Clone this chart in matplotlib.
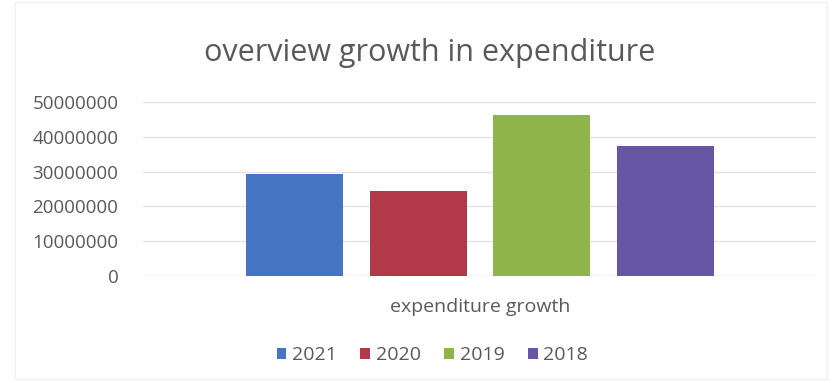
import matplotlib
matplotlib.use("Agg")
import matplotlib.pyplot as plt
from matplotlib.patches import Rectangle

categories = ["expenditure growth"]
years = ["2021", "2020", "2019", "2018"]
values = [29200000, 24400000, 46300000, 37400000]
colors = ["#4673c4", "#b23a48", "#8fb44a", "#6656a3"]
yticks = [0, 10000000, 20000000, 30000000, 40000000, 50000000]

TEXT = "#595959"
GRID = "#e3e3e3"

plt.rcParams["font.family"] = ["Open Sans", "DejaVu Sans"]

fig = plt.figure(figsize=(8.33, 3.83), dpi=100)
ax = fig.add_axes([0.172, 0.279, 0.808, 0.455])

width = 0.144
step = 0.1835
n = len(years)
for i, (label, v, c) in enumerate(zip(years, values, colors)):
    off = (i - (n - 1) / 2) * step
    ax.bar(0 + off, v, width=width, color=c, label=label, zorder=2)

ax.set_xlim(-0.5, 0.5)
ax.set_ylim(0, 50000000)
ax.set_yticks(yticks)
ax.set_yticklabels([str(t) for t in yticks], fontsize=13.5, color=TEXT)
ax.set_xticks([0])
ax.set_xticklabels(categories, fontsize=14, color=TEXT)
ax.tick_params(axis="y", length=0, pad=18)
ax.tick_params(axis="x", length=0, pad=16)
ax.grid(axis="y", color=GRID, linewidth=1, zorder=0)
for s in ax.spines.values():
    s.set_visible(False)
ax.axhline(0, color="#d9d9d9", linewidth=1, zorder=1)

fig.text(0.516, 0.862, "overview growth in expenditure", ha="center", va="center",
         fontsize=22, color=TEXT)

leg = fig.legend(loc="center", bbox_to_anchor=(0.519, 0.073), ncol=4, frameon=False,
                 fontsize=14, handlelength=0.5, handleheight=0.5, handletextpad=0.3,
                 columnspacing=1.2)
for t in leg.get_texts():
    t.set_color(TEXT)

# faint chart-area border
fig.add_artist(Rectangle((0.018, 0.01), 0.975, 0.985, transform=fig.transFigure,
                         fill=False, edgecolor="#f0f0f0", linewidth=1))

fig.savefig("out.png", dpi=100)
